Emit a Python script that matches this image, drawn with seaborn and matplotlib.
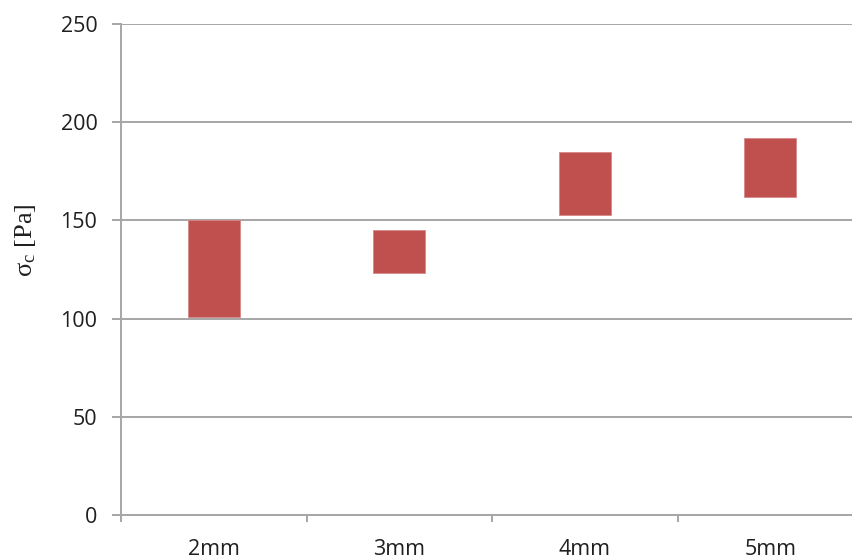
import matplotlib
matplotlib.use("Agg")
import matplotlib.pyplot as plt
import seaborn as sns
import pandas as pd
import numpy as np

# Range of critical stress for each particle size
sizes = ["2mm", "3mm", "4mm", "5mm"]
sigma_low = [101, 123, 153, 162]
sigma_high = [150, 145, 185, 192]

df = pd.DataFrame({
    "size": sizes,
    "span": np.array(sigma_high) - np.array(sigma_low),
    "low": sigma_low,
})

sns.set_theme(style="white")
plt.rcParams["font.family"] = ["Open Sans", "DejaVu Sans"]
plt.rcParams["mathtext.fontset"] = "custom"
plt.rcParams["mathtext.rm"] = "Liberation Serif"

fig = plt.figure(figsize=(8.52, 5.6), dpi=100)
ax = fig.add_axes([121 / 852, 45 / 560, 742 / 852, 491 / 560])

sns.barplot(data=df, x="size", y="span", bottom=df["low"].to_numpy(),
            color="#C0504D", saturation=1, width=0.28,
            edgecolor="#D68986", linewidth=0.6, ax=ax)

ax.set_ylim(0, 250)
ax.set_xlim(-0.5, 3.5)
ax.set_yticks(range(0, 251, 50))
ax.yaxis.grid(True, color="#A6A6A6", linewidth=1.4)
ax.set_axisbelow(True)
for s in ["top", "right"]:
    ax.spines[s].set_visible(False)
for s in ["left", "bottom"]:
    ax.spines[s].set_color("#A6A6A6")
    ax.spines[s].set_linewidth(1.4)

ax.set_xticks([-0.5, 0.5, 1.5, 2.5, 3.5], minor=False)
ax.set_xticklabels([])
ax.set_xticks([0, 1, 2, 3], minor=True)
ax.set_xticklabels(sizes, minor=True)
ax.tick_params(axis="x", which="major", length=5, width=1.4, color="#A6A6A6",
               direction="out", bottom=True)
ax.tick_params(axis="x", which="minor", length=0, pad=17, labelsize=15.5,
               labelcolor="#1F1F1F")
ax.tick_params(axis="y", length=6.5, width=1.4, color="#A6A6A6", direction="out",
               left=True, labelsize=15.5, labelcolor="#1F1F1F", pad=10.5)

ax.set_xlabel("")
ax.set_ylabel(r"$\mathrm{σ_c}$ [Pa]", family="Liberation Serif",
              fontsize=19, color="#1F1F1F", va="center")
ax.yaxis.set_label_coords((26 - 121) / 742, (515 - 240) / 491)

fig.savefig("out.png", dpi=100)
